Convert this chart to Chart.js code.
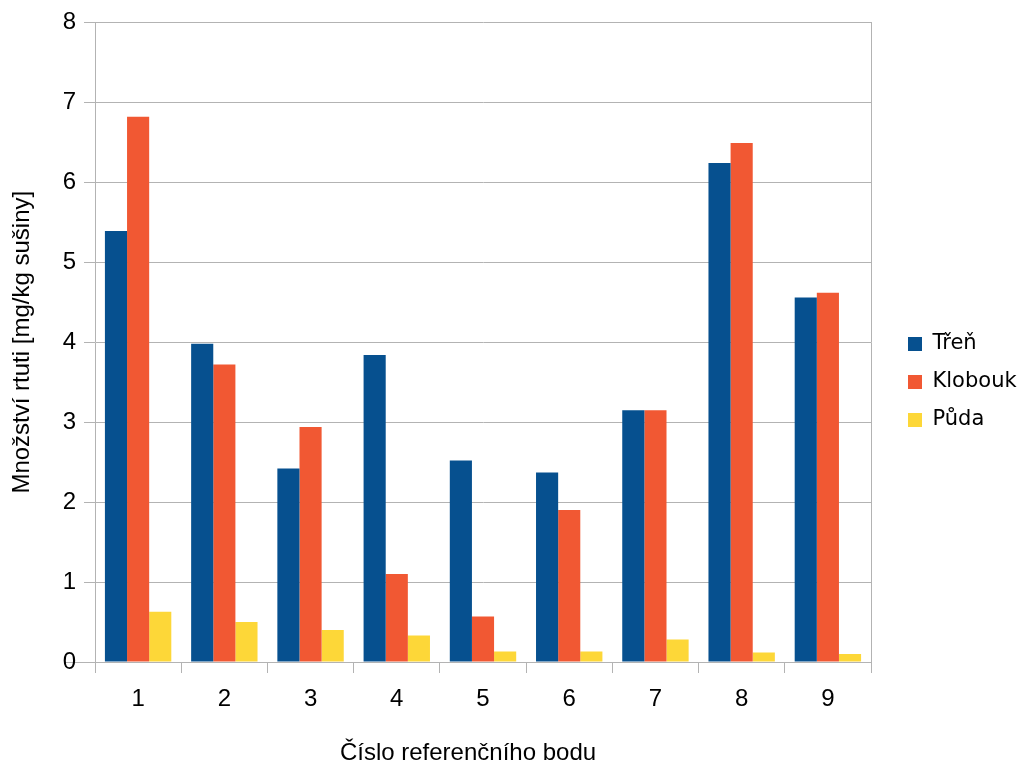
<!DOCTYPE html>
<html>
<head>
<meta charset="utf-8">
<script src="https://cdn.jsdelivr.net/npm/chart.js@4/dist/chart.umd.min.js"></script>
<style>
  html, body { margin: 0; padding: 0; background: #ffffff; }
  #wrap { width: 1020px; height: 768px; }
</style>
</head>
<body>
<div id="wrap"><canvas id="c" width="1020" height="768"></canvas></div>
<script>
const categories = ['1', '2', '3', '4', '5', '6', '7', '8', '9'];
const seriesNames = ['Třeň', 'Klobouk', 'Půda'];
const trenValues = [5.39, 3.98, 2.42, 3.84, 2.52, 2.37, 3.15, 6.24, 4.56];
const kloboukValues = [6.82, 3.72, 2.94, 1.10, 0.57, 1.90, 3.15, 6.49, 4.62];
const pudaValues = [0.63, 0.50, 0.40, 0.33, 0.13, 0.13, 0.28, 0.12, 0.10];
const yTicks = [0, 1, 2, 3, 4, 5, 6, 7, 8];
const xTitle = 'Číslo referenčního bodu';
const yTitle = 'Množství rtuti [mg/kg sušiny]';

const colors = ['#06508f', '#f15833', '#fdd738'];
const gridColor = '#b3b3b3';

const layoutTweak = {
  id: 'layoutTweak',
  afterInit(chart) {
    const lg = chart.legend;
    const f = lg.fit.bind(lg);
    lg.fit = function () { f(); this.width = 149; };
  },
  afterLayout(chart) {
    const lg = chart.legend;
    lg.left += 20; lg.right += 20;
    lg.top -= 13; lg.bottom -= 13;
    // nudge the x-axis title left (title position uses scale edges only)
    chart.scales.x.left -= 30;
  }
};

new Chart(document.getElementById('c'), {
  type: 'bar',
  data: {
    labels: categories,
    datasets: [
      { label: seriesNames[0], data: trenValues, backgroundColor: colors[0], borderWidth: 0 },
      { label: seriesNames[1], data: kloboukValues, backgroundColor: colors[1], borderWidth: 0 },
      { label: seriesNames[2], data: pudaValues, backgroundColor: colors[2], borderWidth: 0 }
    ]
  },
  options: {
    responsive: false,
    animation: false,
    devicePixelRatio: 1,
    layout: { padding: { top: 22, left: 0, right: 0, bottom: 0 } },
    datasets: { bar: { categoryPercentage: 0.77, barPercentage: 1.0 } },
    plugins: {
      tooltip: { enabled: false },
      legend: {
        position: 'right',
        align: 'center',
        labels: {
          boxWidth: 14,
          boxHeight: 14,
          padding: 17,
          color: '#000000',
          font: { family: 'DejaVu Sans', size: 21 }
        }
      }
    },
    scales: {
      x: {
        offset: true,
        grid: { display: true, offset: true, drawOnChartArea: false, drawTicks: true, tickLength: 11, color: gridColor },
        border: { display: true, color: gridColor },
        ticks: { color: '#000000', padding: 12, font: { family: 'Liberation Sans', size: 24 } },
        title: { display: true, text: xTitle, color: '#000000', padding: { top: 0, bottom: 0 }, font: { family: 'Liberation Sans', size: 24 } },
        afterFit(s) { s.height = 106; }
      },
      y: {
        min: 0, max: 8,
        afterBuildTicks(s) { s.ticks = yTicks.map(v => ({ value: v })); },
        grid: { color: gridColor, drawTicks: true, tickLength: 11 },
        border: { display: true, color: gridColor },
        ticks: { color: '#000000', padding: 8, font: { family: 'Liberation Sans', size: 24 } },
        title: { display: true, text: yTitle, color: '#000000', padding: { top: 8, bottom: 0 }, font: { family: 'Liberation Sans', size: 24 } },
        afterFit(s) { s.width = 95; }
      },
      yR: {
        position: 'right',
        display: true,
        min: 0, max: 8,
        grid: { display: false, drawTicks: false },
        ticks: { display: false },
        border: { display: true, color: gridColor },
        afterFit(s) { s.width = 0; }
      }
    }
  },
  plugins: [layoutTweak]
});
</script>
</body>
</html>
